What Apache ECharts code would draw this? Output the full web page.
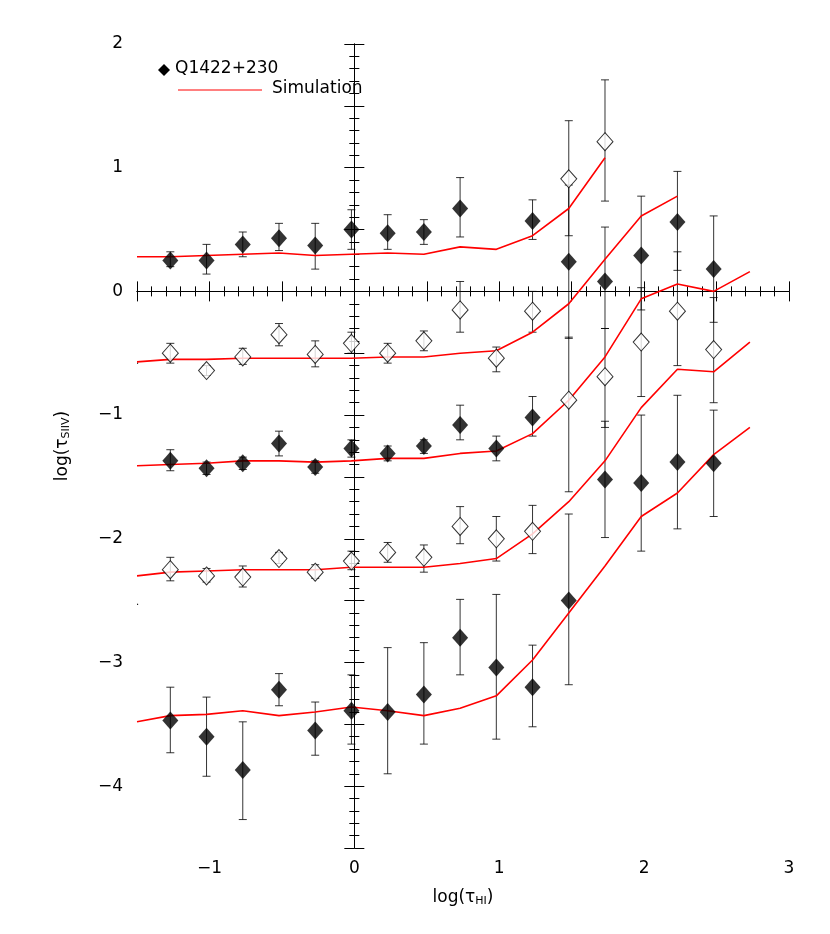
<!DOCTYPE html>
<html><head><meta charset="utf-8">
<script src="https://cdn.jsdelivr.net/npm/echarts@6/dist/echarts.min.js"></script>
<style>html,body{margin:0;background:#fff}#c{width:830px;height:934px}</style>
</head><body><div id="c"></div>
<script>
// filled points: [x, y, low, high]
const filledPts = [
[-1.27,0.25,0.20,0.32],[-1.02,0.25,0.14,0.38],[-0.77,0.38,0.28,0.48],[-0.52,0.43,0.33,0.55],[-0.27,0.37,0.18,0.55],[-0.02,0.50,0.34,0.66],[0.23,0.47,0.34,0.62],[0.48,0.48,0.38,0.58],[0.73,0.67,0.44,0.92],[1.23,0.57,0.42,0.74],
[1.48,0.24,-0.38,0.86],[1.73,0.08,-0.30,0.52],[1.98,0.29,-0.15,0.77],[2.23,0.56,0.17,0.97],[2.48,0.18,-0.25,0.61],
[-1.27,-1.37,-1.45,-1.28],[-1.02,-1.43,-1.48,-1.38],[-0.77,-1.39,-1.44,-1.34],[-0.52,-1.23,-1.33,-1.13],[-0.27,-1.42,-1.47,-1.37],[-0.02,-1.27,-1.34,-1.20],[0.23,-1.31,-1.37,-1.25],[0.48,-1.25,-1.31,-1.20],[0.73,-1.08,-1.20,-0.92],[0.98,-1.27,-1.37,-1.17],[1.23,-1.02,-1.17,-0.85],
[-1.27,-3.47,-3.73,-3.20],[-1.02,-3.60,-3.92,-3.28],[-0.77,-3.87,-4.27,-3.48],[-0.52,-3.22,-3.35,-3.09],[-0.27,-3.55,-3.75,-3.32],[-0.02,-3.39,-3.66,-3.10],[0.23,-3.40,-3.90,-2.88],[0.48,-3.26,-3.66,-2.84],[0.73,-2.80,-3.10,-2.49],[0.98,-3.04,-3.62,-2.45],[1.23,-3.20,-3.52,-2.86],[1.48,-2.50,-3.18,-1.80],[1.73,-1.52,-1.99,-1.05],[1.98,-1.55,-2.10,-1.00],[2.23,-1.38,-1.92,-0.84],[2.48,-1.39,-1.82,-0.96]
];
const openPts = [
[-1.52,-0.58,-0.58,-0.58],[-1.27,-0.50,-0.58,-0.42],[-1.02,-0.64,-0.68,-0.60],[-0.77,-0.53,-0.59,-0.46],[-0.52,-0.35,-0.44,-0.26],[-0.27,-0.51,-0.61,-0.40],[-0.02,-0.42,-0.50,-0.33],[0.23,-0.50,-0.58,-0.42],[0.48,-0.40,-0.48,-0.32],[0.73,-0.15,-0.33,0.08],[0.98,-0.54,-0.65,-0.45],[1.23,-0.16,-0.33,0.00],[1.48,0.91,0.45,1.38],[1.73,1.21,0.73,1.71],
[-1.52,-2.53,-2.53,-2.53],[-1.27,-2.25,-2.34,-2.15],[-1.02,-2.30,-2.35,-2.24],[-0.77,-2.31,-2.39,-2.22],[-0.52,-2.16,-2.20,-2.11],[-0.27,-2.27,-2.32,-2.21],[-0.02,-2.18,-2.25,-2.10],[0.23,-2.11,-2.19,-2.03],[0.48,-2.15,-2.27,-2.05],[0.73,-1.90,-2.04,-1.74],[0.98,-2.00,-2.18,-1.82],[1.23,-1.94,-2.12,-1.73],[1.48,-0.88,-1.62,-0.37],[1.73,-0.69,-1.10,-0.30],[1.98,-0.41,-0.85,0.03],[2.23,-0.16,-0.60,0.32],[2.48,-0.47,-0.90,-0.05]
];
const simX = [-1.5,-1.27,-1.02,-0.77,-0.52,-0.27,-0.02,0.23,0.48,0.73,0.98,1.23,1.48,1.73,1.98,2.23,2.48,2.73];
const sim1 = [0.28,0.28,0.29,0.30,0.31,0.29,0.30,0.31,0.30,0.36,0.34,0.45,0.67,1.08];
const sim2 = [-0.57,-0.55,-0.55,-0.54,-0.54,-0.54,-0.54,-0.53,-0.53,-0.50,-0.48,-0.33,-0.10,0.26,0.61,0.77];
const sim3 = [-1.41,-1.40,-1.39,-1.37,-1.37,-1.38,-1.37,-1.35,-1.35,-1.31,-1.29,-1.15,-0.88,-0.53,-0.06,0.06,0.00,0.16];
const sim4 = [-2.30,-2.27,-2.26,-2.25,-2.25,-2.25,-2.23,-2.23,-2.23,-2.20,-2.16,-1.96,-1.70,-1.37,-0.94,-0.63,-0.65,-0.41];
const sim5 = [-3.48,-3.43,-3.42,-3.39,-3.43,-3.40,-3.36,-3.39,-3.43,-3.37,-3.27,-2.98,-2.60,-2.22,-1.82,-1.63,-1.32,-1.10];

const FONT = 'DejaVu Sans';
const chart = echarts.init(document.getElementById('c'));
function errSeries(d){
  return {type:'custom', data:d, z:2, silent:true, clip:true,
    renderItem:(p,api)=>{
      const x=api.value(0), lo=api.coord([x,api.value(2)]), hi=api.coord([x,api.value(3)]);
      const w=4, st={stroke:'#000',lineWidth:0.8};
      return {type:'group',children:[
        {type:'line',shape:{x1:lo[0],y1:lo[1],x2:hi[0],y2:hi[1]},style:st},
        {type:'line',shape:{x1:lo[0]-w,y1:lo[1],x2:lo[0]+w,y2:lo[1]},style:st},
        {type:'line',shape:{x1:hi[0]-w,y1:hi[1],x2:hi[0]+w,y2:hi[1]},style:st}
      ]};
    }};
}
function simSeries(arr){
  return {type:'line', data:arr.map((v,i)=>[simX[i],v]), showSymbol:false, z:3,
    lineStyle:{color:'#ff0000',width:1.6}, silent:true};
}
const axisCommon = {
  axisLine:{lineStyle:{color:'#000',width:1}},
  axisTick:{inside:true,length:10,lineStyle:{color:'#000'}},
  minorTick:{show:true,splitNumber:5,length:5,lineStyle:{color:'#000'}},
  splitLine:{show:false}
};
const xBase = {type:'value',min:-1.5,max:3,interval:0.5,...axisCommon};
const yBase = {type:'value',min:-4.5,max:2,interval:0.5,...axisCommon};
const majorX = v=>Number.isInteger(v)?(v<0?'\u2212'+(-v):String(v)):'';
chart.setOption({
  animation:false,
  grid:{left:137,right:41,top:44,bottom:86},
  xAxis:[
    {...xBase,position:'bottom',
     axisLabel:{formatter:majorX,color:'#000',fontFamily:FONT,fontSize:17,margin:12},
     name:'log(τ{s|HI})',nameLocation:'middle',nameGap:40,
     nameTextStyle:{color:'#000',fontFamily:FONT,fontSize:17,rich:{s:{fontSize:11,padding:[8,0,0,0],fontFamily:FONT}}}},
    {...xBase,position:'top',axisLabel:{show:false}}
  ],
  yAxis:[
    {...yBase,position:'left',
     axisLabel:{formatter:majorX,color:'#000',fontFamily:FONT,fontSize:17,margin:14},
     name:'log(τ{s|SIIV})',nameLocation:'middle',nameGap:65,
     nameTextStyle:{color:'#000',fontFamily:FONT,fontSize:17,rich:{s:{fontSize:11,padding:[8,0,0,0],fontFamily:FONT}}}},
    {...yBase,position:'right',axisLabel:{show:false}}
  ],
  graphic:[
    {type:'polygon',shape:{points:[[164,64],[170,70],[164,76],[158,70]]},style:{fill:'#000'}},
    {type:'text',x:175,y:60,style:{text:'Q1422+230',font:'17px "DejaVu Sans"',fill:'#000'}},
    {type:'line',shape:{x1:178,y1:90,x2:262,y2:90},style:{stroke:'#ff0000',lineWidth:1}},
    {type:'text',x:272,y:80,style:{text:'Simulation',font:'17px "DejaVu Sans"',fill:'#000'}}
  ],
  series:[
    errSeries(filledPts), errSeries(openPts),
    simSeries(sim1),simSeries(sim2),simSeries(sim3),simSeries(sim4),simSeries(sim5),
    {type:'scatter',data:filledPts.map(p=>[p[0],p[1]]),symbol:'diamond',symbolSize:[16,18],z:5,
     itemStyle:{color:'#000'},clip:true},
    {type:'scatter',data:openPts.map(p=>[p[0],p[1]]),symbol:'diamond',symbolSize:[16,18],z:5,
     itemStyle:{color:'#fff',borderColor:'#000',borderWidth:1},clip:true}
  ]
});
</script></body></html>
